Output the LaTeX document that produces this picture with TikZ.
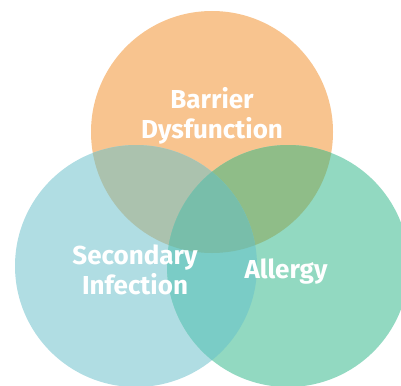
\documentclass[tikz,border=0pt]{standalone}
\usepackage{fontspec}
\setmainfont{Fira Sans}
\definecolor{cOrange}{HTML}{F8C48F}
\definecolor{cBlue}{HTML}{B0DDE3}
\definecolor{cGreen}{HTML}{92D9C1}
\definecolor{cOB}{HTML}{ABC2AE}
\definecolor{cOG}{HTML}{8FBD88}
\definecolor{cBG}{HTML}{7ACCC6}
\definecolor{cAll}{HTML}{78BEAA}
\begin{document}
\begin{tikzpicture}[x=1pt,y=-1pt,
  lbl/.style={text=white,font=\fontsize{26}{30}\selectfont\bfseries,align=center,inner sep=0pt}]
\useasboundingbox (0,0) rectangle (401,385);
\def\rr{121}
\coordinate (O) at (212,132);
\coordinate (B) at (136,266);
\coordinate (G) at (288,266);
\fill[cOrange] (O) circle[radius=\rr];
\fill[cBlue] (B) circle[radius=\rr];
\fill[cGreen] (G) circle[radius=\rr];
\begin{scope}
  \clip (O) circle[radius=\rr];
  \fill[cOB] (B) circle[radius=\rr];
  \fill[cOG] (G) circle[radius=\rr];
\end{scope}
\begin{scope}
  \clip (B) circle[radius=\rr];
  \fill[cBG] (G) circle[radius=\rr];
  \clip (G) circle[radius=\rr];
  \fill[cAll] (O) circle[radius=\rr];
\end{scope}
\node[lbl] (barrier) at (212,116) {Barrier\\Dysfunction};
\node[lbl] (secondary) at (135,270) {Secondary\\Infection};
\node[lbl,anchor=base] (allergy) at (286,278) {Allergy};
\end{tikzpicture}
\end{document}
